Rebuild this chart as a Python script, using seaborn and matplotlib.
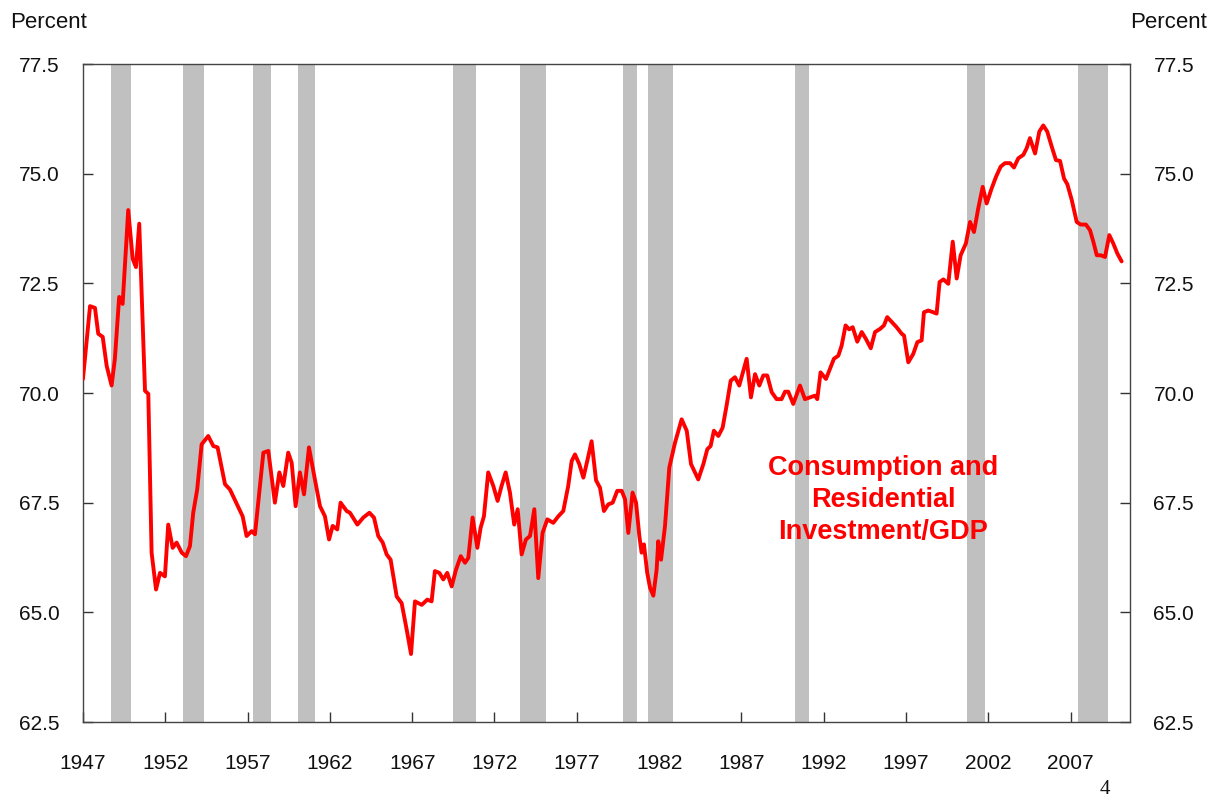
import matplotlib
matplotlib.use("Agg")
import matplotlib.pyplot as plt
import seaborn as sns
import pandas as pd

# ---- data ----
years = [
    1947.00, 1947.43, 1947.73, 1947.93, 1948.20, 1948.44, 1948.74, 1948.94, 1949.20, 1949.41,
    1949.75, 1950.02, 1950.22, 1950.42, 1950.77, 1950.97, 1951.17, 1951.44, 1951.68, 1951.98,
    1952.18, 1952.45, 1952.69, 1953.00, 1953.26, 1953.50, 1953.70, 1953.94, 1954.21, 1954.61,
    1954.92, 1955.18, 1955.63, 1955.93, 1956.50, 1956.70, 1956.94, 1957.25, 1957.45, 1957.96,
    1958.26, 1958.66, 1958.93, 1959.17, 1959.47, 1959.68, 1959.92, 1960.18, 1960.43, 1960.73,
    1961.09, 1961.40, 1961.70, 1961.95, 1962.17, 1962.45, 1962.65, 1963.02, 1963.22, 1963.67,
    1964.03, 1964.40, 1964.68, 1964.94, 1965.21, 1965.45, 1965.69, 1966.06, 1966.36, 1966.67,
    1966.93, 1967.17, 1967.58, 1967.92, 1968.18, 1968.38, 1968.65, 1968.89, 1969.13, 1969.40,
    1969.66, 1969.95, 1970.21, 1970.41, 1970.67, 1970.96, 1971.16, 1971.36, 1971.62, 1971.93,
    1972.19, 1972.43, 1972.68, 1972.94, 1973.20, 1973.41, 1973.65, 1973.91, 1974.16, 1974.42,
    1974.66, 1974.92, 1975.21, 1975.57, 1975.88, 1976.18, 1976.48, 1976.69, 1976.89, 1977.15,
    1977.40, 1977.66, 1977.90, 1978.17, 1978.41, 1978.65, 1978.91, 1979.18, 1979.46, 1979.73,
    1979.93, 1980.13, 1980.39, 1980.60, 1980.80, 1980.94, 1981.08, 1981.28, 1981.45, 1981.65,
    1981.85, 1981.95, 1982.12, 1982.36, 1982.62, 1982.97, 1983.37, 1983.68, 1983.94, 1984.38,
    1984.69, 1984.93, 1985.13, 1985.33, 1985.60, 1985.86, 1986.10, 1986.35, 1986.61, 1986.87,
    1987.12, 1987.32, 1987.58, 1987.83, 1988.09, 1988.33, 1988.57, 1988.84, 1989.14, 1989.44,
    1989.65, 1989.85, 1990.15, 1990.56, 1990.86, 1991.17, 1991.47, 1991.61, 1991.81, 1992.14,
    1992.38, 1992.62, 1992.89, 1993.09, 1993.33, 1993.55, 1993.76, 1994.04, 1994.31, 1994.57,
    1994.86, 1995.12, 1995.42, 1995.66, 1995.86, 1996.13, 1996.43, 1996.74, 1996.88, 1997.14,
    1997.44, 1997.69, 1997.95, 1998.09, 1998.35, 1998.66, 1998.86, 1999.04, 1999.27, 1999.57,
    1999.84, 2000.08, 2000.32, 2000.64, 2000.89, 2001.13, 2001.39, 2001.66, 2001.90, 2002.20,
    2002.47, 2002.75, 2003.01, 2003.32, 2003.56, 2003.82, 2004.13, 2004.33, 2004.53, 2004.84,
    2005.10, 2005.34, 2005.58, 2005.85, 2006.11, 2006.36, 2006.60, 2006.80, 2007.07, 2007.37,
    2007.61, 2007.93, 2008.18, 2008.38, 2008.59, 2008.83, 2009.09, 2009.35, 2009.59, 2009.84,
    2010.10,
]
share = [
    70.32, 71.98, 71.94, 71.35, 71.28, 70.62, 70.17, 70.78, 72.19, 72.03,
    74.17, 73.06, 72.87, 73.86, 70.05, 69.98, 66.36, 65.52, 65.90, 65.82,
    67.00, 66.47, 66.59, 66.36, 66.28, 66.51, 67.27, 67.80, 68.83, 69.02,
    68.79, 68.76, 67.92, 67.80, 67.35, 67.19, 66.74, 66.85, 66.78, 68.64,
    68.68, 67.50, 68.19, 67.88, 68.64, 68.41, 67.42, 68.19, 67.69, 68.76,
    68.03, 67.42, 67.19, 66.66, 66.97, 66.89, 67.50, 67.31, 67.27, 67.00,
    67.16, 67.27, 67.16, 66.74, 66.59, 66.32, 66.20, 65.36, 65.21, 64.60,
    64.05, 65.25, 65.17, 65.29, 65.25, 65.94, 65.90, 65.75, 65.90, 65.59,
    65.97, 66.28, 66.13, 66.24, 67.16, 66.47, 66.93, 67.19, 68.19, 67.88,
    67.54, 67.88, 68.19, 67.73, 67.00, 67.35, 66.32, 66.66, 66.74, 67.35,
    65.78, 66.81, 67.12, 67.04, 67.19, 67.31, 67.88, 68.45, 68.60, 68.38,
    68.07, 68.49, 68.90, 68.01, 67.84, 67.31, 67.46, 67.50, 67.77, 67.77,
    67.58, 66.81, 67.73, 67.50, 66.74, 66.36, 66.55, 65.90, 65.56, 65.38,
    65.97, 66.62, 66.20, 66.97, 68.30, 68.87, 69.40, 69.14, 68.38, 68.03,
    68.38, 68.72, 68.79, 69.14, 69.02, 69.21, 69.71, 70.28, 70.36, 70.17,
    70.51, 70.78, 69.90, 70.43, 70.17, 70.40, 70.40, 70.02, 69.86, 69.86,
    70.03, 70.03, 69.75, 70.17, 69.86, 69.90, 69.94, 69.86, 70.47, 70.32,
    70.55, 70.78, 70.85, 71.08, 71.54, 71.45, 71.50, 71.17, 71.39, 71.23,
    71.02, 71.39, 71.46, 71.54, 71.73, 71.62, 71.50, 71.35, 71.31, 70.70,
    70.89, 71.16, 71.20, 71.84, 71.88, 71.84, 71.81, 72.53, 72.59, 72.49,
    73.45, 72.61, 73.14, 73.41, 73.90, 73.67, 74.21, 74.70, 74.32, 74.66,
    74.93, 75.16, 75.24, 75.24, 75.14, 75.35, 75.43, 75.58, 75.81, 75.46,
    75.96, 76.10, 75.96, 75.62, 75.31, 75.29, 74.89, 74.76, 74.40, 73.90,
    73.84, 73.84, 73.71, 73.45, 73.14, 73.14, 73.10, 73.60, 73.41, 73.18,
    73.00,
]

recession_start = [1948.68, 1953.10, 1957.35, 1960.08, 1969.50, 1973.55, 1979.83, 1981.30, 1990.26, 2000.70, 2007.47]
recession_end   = [1949.90, 1954.37, 1958.40, 1961.12, 1970.90, 1975.13, 1980.68, 1982.86, 1991.12, 2001.80, 2009.29]

x_ticks = [1947, 1952, 1957, 1962, 1967, 1972, 1977, 1982, 1987, 1992, 1997, 2002, 2007]
y_ticks = [62.5, 65.0, 67.5, 70.0, 72.5, 75.0, 77.5]

series_label = "Consumption and\nResidential\nInvestment/GDP"
axis_unit = "Percent"
page_number = "4"

# ---- plotting ----
sns.set_style("white")
plt.rcParams['font.family'] = ['Liberation Sans', 'DejaVu Sans']

df = pd.DataFrame({"year": years, "share": share})

fig = plt.figure(figsize=(12.11, 8.0), dpi=100)
ax = fig.add_axes([0.0685, 0.0975, 0.8645, 0.8225])

for s, e in zip(recession_start, recession_end):
    ax.axvspan(s, e, color="#c0c0c0", lw=0, zorder=1)

sns.lineplot(data=df, x="year", y="share", ax=ax, color="#ff0000",
             linewidth=2.8, zorder=3, sort=False)

ax.set_xlim(1947.0, 2010.6)
ax.set_ylim(62.5, 77.5)
ax.set_xticks(x_ticks)
ax.set_xticklabels([str(v) for v in x_ticks])
ax.set_yticks(y_ticks)
ax.set_yticklabels([f"{v:.1f}" for v in y_ticks])
ax.set_xlabel("")
ax.set_ylabel("")

ax.tick_params(axis="both", direction="in", length=7, width=1, color="#333333",
               labelsize=15, labelcolor="#111111")
ax.tick_params(axis="y", left=True, right=True, labelleft=True, labelright=True, pad=17)
ax.tick_params(axis="x", bottom=True, top=False, pad=23)

for sp in ax.spines.values():
    sp.set_visible(True)
    sp.set_color("#444444")
    sp.set_linewidth(1.0)

ax.text(1995.6, 67.55, series_label, color="#ff0000", fontsize=19.5,
        fontweight="bold", ha="center", va="center", linespacing=1.3, zorder=4)

fig.text(10 / 1211, 1 - 22 / 800, axis_unit, fontsize=16, ha="left", va="center", color="#111111")
fig.text(1207 / 1211, 1 - 22 / 800, axis_unit, fontsize=16, ha="right", va="center", color="#111111")
fig.text(1105 / 1211, 1 - 790 / 800, page_number, fontsize=15, ha="center", va="center",
         family=["Liberation Serif", "DejaVu Serif"], color="#111111")

fig.savefig("out.png", dpi=100, facecolor="white")
